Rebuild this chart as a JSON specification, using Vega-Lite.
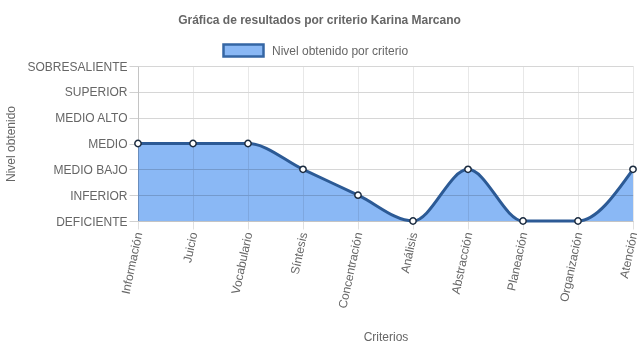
{
  "$schema": "https://vega.github.io/schema/vega-lite/v6.json",
  "width": 495,
  "height": 155,
  "autosize": {"type": "none"},
  "padding": {"left": 138, "top": 66, "right": 4, "bottom": 127},
  "background": "white",
  "title": {
    "text": "Gráfica de resultados por criterio Karina Marcano",
    "font": "Liberation Sans",
    "fontSize": 12,
    "fontWeight": "bold",
    "color": "#666666",
    "anchor": "middle",
    "frame": "group",
    "dx": -66,
    "baseline": "alphabetic",
    "offset": -7
  },
  "data": {
    "values": [
      {"criterio": "Información", "nivel": 3},
      {"criterio": "Juicio", "nivel": 3},
      {"criterio": "Vocabulario", "nivel": 3},
      {"criterio": "Síntesis", "nivel": 2},
      {"criterio": "Concentración", "nivel": 1},
      {"criterio": "Análisis", "nivel": 0},
      {"criterio": "Abstracción", "nivel": 2},
      {"criterio": "Planeación", "nivel": 0},
      {"criterio": "Organización", "nivel": 0},
      {"criterio": "Atención", "nivel": 2}
    ]
  },
  "encoding": {
    "x": {
      "field": "criterio",
      "type": "nominal",
      "sort": null,
      "scale": {"type": "point", "padding": 0},
      "axis": {
        "title": "Criterios",
        "labelAngle": -78,
        "labelAlign": "right",
        "labelBaseline": "middle",
        "labelPadding": 3,
        "tickSize": 8,
        "grid": true,
        "gridColor": "#e8e8e8",
        "tickColor": "#e0e0e0",
        "domainColor": "#c4c4c4",
        "titleX": 247.5,
        "titleY": 115,
        "titleBaseline": "middle",
        "titleFontWeight": "normal"
      }
    },
    "y": {
      "field": "nivel",
      "type": "quantitative",
      "scale": {"domain": [0, 6], "nice": false, "zero": true},
      "axis": {
        "title": "Nivel obtenido",
        "values": [0, 1, 2, 3, 4, 5, 6],
        "labelExpr": "['DEFICIENTE','INFERIOR','MEDIO BAJO','MEDIO','MEDIO ALTO','SUPERIOR','SOBRESALIENTE'][datum.value]",
        "tickSize": 9,
        "labelPadding": 2,
        "grid": true,
        "gridColor": "#d6d6d6",
        "tickColor": "#d0d0d0",
        "domainColor": "#c4c4c4",
        "titleX": -128,
        "titleY": 77.5,
        "titleAngle": -90,
        "titleAlign": "center",
        "titleBaseline": "middle",
        "titleFontWeight": "normal"
      }
    }
  },
  "layer": [
    {
      "mark": {"type": "area", "interpolate": "monotone", "opacity": 1, "blend": "multiply"},
      "encoding": {
        "color": {
          "datum": "Nivel obtenido por criterio",
          "type": "nominal",
          "scale": {"range": ["#8ab8f5"]},
          "legend": {
            "title": null,
            "orient": "none",
            "legendX": 84,
            "legendY": -37,
            "direction": "horizontal",
            "symbolType": "M-1,-0.3H1V0.3H-1Z",
            "symbolSize": 1600,
            "symbolStrokeColor": "#3566a4",
            "symbolStrokeWidth": 2.5,
            "symbolOpacity": 1,
            "labelFont": "Liberation Sans",
            "labelFontSize": 12,
            "labelColor": "#666666",
            "labelOffset": 7
          }
        }
      }
    },
    {
      "mark": {"type": "line", "interpolate": "monotone", "color": "#2c5a95", "strokeWidth": 3}
    },
    {
      "mark": {"type": "point", "filled": true, "fill": "white", "stroke": "#1c2c40", "strokeWidth": 1.5, "size": 40, "opacity": 1}
    }
  ],
  "config": {
    "font": "Liberation Sans",
    "view": {"stroke": null},
    "axis": {
      "labelFont": "Liberation Sans",
      "labelFontSize": 12,
      "labelColor": "#666666",
      "titleFont": "Liberation Sans",
      "titleFontSize": 12,
      "titleColor": "#666666"
    }
  }
}
